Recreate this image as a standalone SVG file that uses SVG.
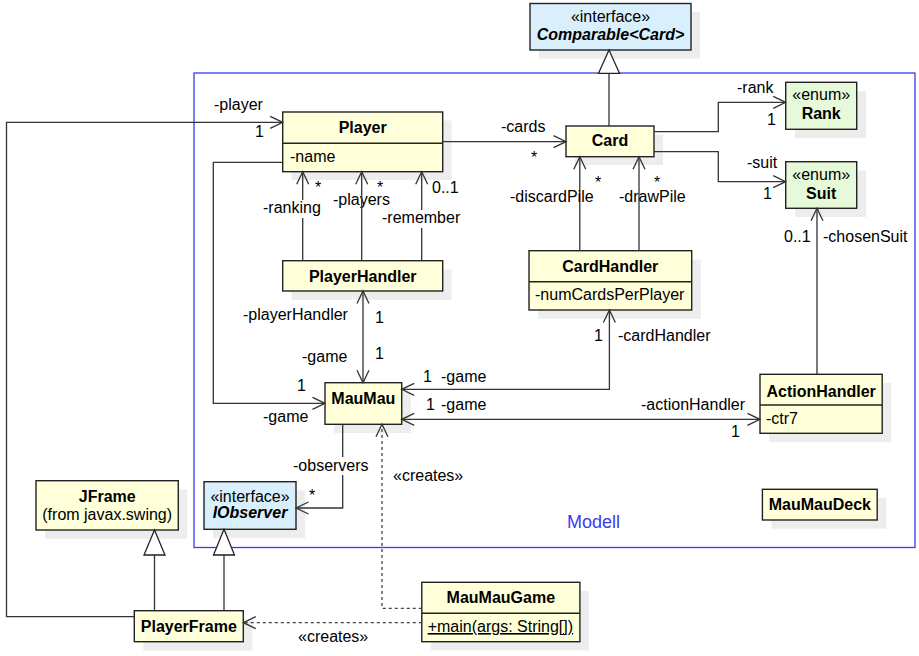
<svg xmlns="http://www.w3.org/2000/svg" width="919" height="656" viewBox="0 0 919 656">
<style>
text{font-family:"Liberation Sans",Arial,sans-serif;font-size:16px;fill:#000}
.b{font-weight:bold}
.bi{font-weight:bold;font-style:italic}
.c{text-anchor:middle}
.box{stroke:#222;stroke-width:1.4}
.y{fill:#ffffd9}
.bl{fill:#d9effc}
.g{fill:#e6f9d8}
.sh{fill:#ededed}
.ln{fill:none;stroke:#333;stroke-width:1.3}
.dash{fill:none;stroke:#444;stroke-width:1.3;stroke-dasharray:3,3}
.tri{fill:#fff;stroke:#222;stroke-width:1.3}
.bg{fill:#fff}
.modell{font-size:18px;fill:#3b3bf0}
</style>
<defs>
<marker id="arr" viewBox="-14 -8 16 16" markerWidth="16" markerHeight="16" refX="0" refY="0" orient="auto-start-reverse" markerUnits="userSpaceOnUse">
<path d="M-12.5,-6 L0,0 L-12.5,6" fill="none" stroke="#333" stroke-width="1.3"/>
</marker>
</defs>
<rect id="pkg-modell" x="194" y="73" width="721" height="474.5" fill="none" stroke="#3b3bf0" stroke-width="1.3"/>
<text class="modell" x="567" y="528">Modell</text>

<g id="Comparable">
<rect class="sh" x="539" y="12" width="161" height="46.5"/>
<rect class="box bl" x="530" y="3.5" width="161" height="46.5"/>
<text class="c" x="610.5" y="21.5">«interface»</text>
<text class="bi c" x="610.5" y="40">Comparable&lt;Card&gt;</text>
</g>
<g id="Player">
<rect class="sh" x="291.5" y="120.5" width="160" height="59.5"/>
<rect class="box y" x="282.7" y="112" width="160" height="59.7"/>
<line class="box" x1="282.7" y1="143.3" x2="442.7" y2="143.3"/>
<text class="b c" x="362.7" y="133.3">Player</text>
<text x="290" y="161.5">-name</text>
</g>
<g id="Card">
<rect class="sh" x="575" y="134.5" width="88" height="30.5"/>
<rect class="box y" x="566" y="126" width="88" height="30.7"/>
<text class="b c" x="610" y="146">Card</text>
</g>
<g id="Rank">
<rect class="sh" x="795" y="91" width="71" height="47"/>
<rect class="box g" x="785.7" y="82.3" width="71" height="47"/>
<text class="c" x="821.2" y="100">«enum»</text>
<text class="b c" x="821.2" y="119.3">Rank</text>
</g>
<g id="Suit">
<rect class="sh" x="795" y="170.5" width="71" height="46.5"/>
<rect class="box g" x="785.7" y="161.7" width="71" height="46.6"/>
<text class="c" x="821.2" y="180">«enum»</text>
<text class="b c" x="821.2" y="199">Suit</text>
</g>
<g id="PlayerHandler">
<rect class="sh" x="291.5" y="269.5" width="160" height="30.3"/>
<rect class="box y" x="282.7" y="260.7" width="160" height="30.3"/>
<text class="b c" x="362.7" y="281.7">PlayerHandler</text>
</g>
<g id="CardHandler">
<rect class="sh" x="538" y="259.5" width="162.7" height="59.3"/>
<rect class="box y" x="529" y="250.7" width="162.7" height="59.3"/>
<line class="box" x1="529" y1="281.7" x2="691.7" y2="281.7"/>
<text class="b c" x="610.3" y="271.7">CardHandler</text>
<text x="535" y="300">-numCardsPerPlayer</text>
</g>
<g id="ActionHandler">
<rect class="sh" x="769" y="383" width="122.2" height="59"/>
<rect class="box y" x="760" y="374.3" width="122.2" height="59"/>
<line class="box" x1="760" y1="405" x2="882.2" y2="405"/>
<text class="b c" x="821.1" y="396.7">ActionHandler</text>
<text x="766" y="424">-ctr7</text>
</g>
<g id="MauMau">
<rect class="sh" x="334" y="391.5" width="76.7" height="41.6"/>
<rect class="box y" x="325" y="382.7" width="76.7" height="41.6"/>
<text class="b c" x="363.3" y="404">MauMau</text>
</g>
<g id="MauMauDeck">
<rect class="sh" x="771.4" y="498" width="114.8" height="30.7"/>
<rect class="box y" x="762.4" y="489.3" width="114.8" height="30.7"/>
<text class="b c" x="819.8" y="510">MauMauDeck</text>
</g>
<g id="JFrame">
<rect class="sh" x="45" y="489.5" width="142.3" height="49.3"/>
<rect class="box y" x="36" y="480.7" width="142.3" height="49.3"/>
<text class="b c" x="107.2" y="502">JFrame</text>
<text class="c" x="107.2" y="520">(from javax.swing)</text>
</g>
<g id="IObserver">
<rect class="sh" x="213" y="490.5" width="92" height="47.6"/>
<rect class="box bl" x="204" y="481.7" width="92" height="47.6"/>
<text class="c" x="250" y="501.7">«interface»</text>
<text class="bi c" x="250" y="518.3">IObserver</text>
</g>
<g id="PlayerFrame">
<rect class="sh" x="143.3" y="619.5" width="109" height="31"/>
<rect class="box y" x="134.3" y="610.7" width="109" height="31"/>
<text class="b c" x="188.8" y="631.7">PlayerFrame</text>
</g>
<g id="MauMauGame">
<rect class="sh" x="430.8" y="591" width="158.1" height="59.4"/>
<rect class="box y" x="421.8" y="582.3" width="158.1" height="59.4"/>
<line class="box" x1="421.8" y1="613.3" x2="579.9" y2="613.3"/>
<text class="b c" x="500.8" y="603">MauMauGame</text>
<text x="427.7" y="632" text-decoration="underline">+main(args: String[])</text>
</g>

<g id="connectors">
<!-- generalizations -->
<line class="ln" x1="609" y1="73.3" x2="609" y2="126"/>
<polygon class="tri" points="609,50 598.5,73.3 619.5,73.3"/>
<line class="ln" x1="154.5" y1="555" x2="154.5" y2="610.7"/>
<polygon class="tri" points="154.5,530 144,555 165,555"/>
<line class="ln" x1="224" y1="555" x2="224" y2="610.7"/>
<polygon class="tri" points="224,529.3 213.5,555 234.5,555"/>

<!-- Player -> Card -->
<line class="ln" x1="442.7" y1="141.7" x2="566" y2="141.7" marker-end="url(#arr)"/>
<text x="501" y="132">-cards</text>
<text x="531" y="163">*</text>
<!-- Card -> Rank / Suit -->
<polyline class="ln" points="654,131.7 718.3,131.7 718.3,102.3 785.7,102.3" marker-end="url(#arr)"/>
<text x="737" y="93">-rank</text>
<text x="767" y="125">1</text>
<polyline class="ln" points="654,151.7 718.3,151.7 718.3,181.7 785.7,181.7" marker-end="url(#arr)"/>
<text x="747" y="168">-suit</text>
<text x="763" y="199">1</text>
<!-- PlayerFrame -> Player -->
<polyline class="ln" points="134.3,616.7 6.5,616.7 6.5,122.3 282.7,122.3" marker-end="url(#arr)"/>
<text x="214" y="110">-player</text>
<text x="255" y="137">1</text>
<!-- PlayerHandler -> Player -->
<line class="ln" x1="302.7" y1="260.7" x2="302.7" y2="171.7" marker-end="url(#arr)"/>
<line class="ln" x1="421.7" y1="260.7" x2="421.7" y2="171.7" marker-end="url(#arr)"/>
<rect class="bg" x="262" y="200" width="60" height="18"/>
<text x="263" y="213">-ranking</text>
<rect class="bg" x="381" y="210" width="80" height="18"/>
<text x="382" y="223">-remember</text>
<text x="333" y="205">-players</text>
<line class="ln" x1="361.7" y1="260.7" x2="361.7" y2="171.7" marker-end="url(#arr)"/>
<text x="315" y="193">*</text>
<text x="377" y="193">*</text>
<text x="432" y="193">0..1</text>
<!-- CardHandler -> Card -->
<line class="ln" x1="579.8" y1="250.7" x2="579.8" y2="156.7" marker-end="url(#arr)"/>
<line class="ln" x1="639" y1="250.7" x2="639" y2="156.7" marker-end="url(#arr)"/>
<text x="510" y="202">-discardPile</text>
<text x="595" y="188">*</text>
<text x="619" y="202">-drawPile</text>
<text x="654" y="188">*</text>
<!-- ActionHandler -> Suit -->
<line class="ln" x1="817" y1="374.3" x2="817" y2="208.3" marker-end="url(#arr)"/>
<text x="784" y="242">0..1</text>
<text x="823" y="242">-chosenSuit</text>
<!-- PlayerHandler <-> MauMau -->
<line class="ln" x1="363" y1="291" x2="363" y2="382.7" marker-start="url(#arr)" marker-end="url(#arr)"/>
<text x="243" y="320">-playerHandler</text>
<text x="375" y="323">1</text>
<text x="302" y="362">-game</text>
<text x="375" y="359">1</text>
<!-- CardHandler <-> MauMau -->
<polyline class="ln" points="609.4,310 609.4,389.3 401.7,389.3" marker-start="url(#arr)" marker-end="url(#arr)"/>
<text x="594" y="341">1</text>
<text x="618" y="341">-cardHandler</text>
<text x="423" y="382">1</text>
<text x="441" y="382">-game</text>
<!-- MauMau <-> ActionHandler -->
<line class="ln" x1="401.7" y1="419.3" x2="760" y2="419.3" marker-start="url(#arr)" marker-end="url(#arr)"/>
<text x="426" y="410">1</text>
<text x="441" y="410">-game</text>
<text x="641" y="410">-actionHandler</text>
<text x="731" y="437">1</text>
<!-- Player -> MauMau -->
<polyline class="ln" points="282.7,162.3 213.3,162.3 213.3,403.3 325,403.3" marker-end="url(#arr)"/>
<text x="297" y="391">1</text>
<text x="263" y="422">-game</text>
<!-- MauMau -> IObserver -->
<polyline class="ln" points="342.7,424.3 342.7,508 296,508" marker-end="url(#arr)"/>
<rect class="bg" x="292" y="457" width="78" height="18"/>
<text x="293" y="471">-observers</text>
<text x="309" y="501">*</text>
<!-- MauMauGame creates MauMau -->
<polyline class="dash" points="421.8,608.3 382,608.3 382,424.3" marker-end="url(#arr)"/>
<text x="393" y="481">«creates»</text>
<!-- MauMauGame creates PlayerFrame -->
<line class="dash" x1="421.8" y1="622.7" x2="243.3" y2="622.7" marker-end="url(#arr)"/>
<text x="298" y="642">«creates»</text>
</g>
</svg>
